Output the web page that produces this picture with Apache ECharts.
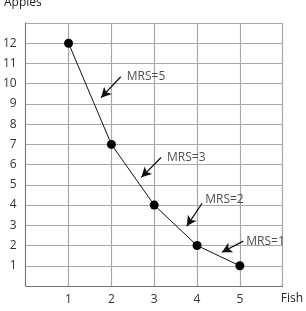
<!DOCTYPE html>
<html>
<head>
<meta charset="utf-8">
<script src="https://cdn.jsdelivr.net/npm/echarts@6/dist/echarts.min.js"></script>
<style>
  html, body { margin: 0; padding: 0; background: #fff; }
  #chart { width: 306px; height: 311px; }
</style>
</head>
<body>
<div id="chart"></div>
<script>
// fish (x) and apples (y) on the indifference curve
var fish = [1, 2, 3, 4, 5];
var apples = [12, 7, 4, 2, 1];

// MRS notes: label text, where the text sits, arrow start and arrow tip
var mrsText = ['MRS=5', 'MRS=3', 'MRS=2', 'MRS=1'];
var mrsTextPos = [[2.36, 10.34], [3.30, 6.35], [4.19, 4.29], [5.15, 2.22]];
var arrowFrom = [[2.22, 10.34], [3.16, 6.35], [4.12, 4.09], [5.08, 2.22]];
var arrowTo = [[1.76, 9.31], [2.70, 5.37], [3.76, 2.96], [4.58, 1.67]];

var font = '"Open Sans", "DejaVu Sans", sans-serif';
var chart = echarts.init(document.getElementById('chart'));

var curve = fish.map(function (f, i) { return [f, apples[i]]; });
var arrows = arrowFrom.map(function (p, i) {
    return [{ coord: p }, { coord: arrowTo[i] }];
});
var notes = mrsTextPos.map(function (p, i) {
    return { value: p, name: mrsText[i] };
});

var option = {
    animation: false,
    title: {
        text: 'Apples',
        left: -1,
        top: -8,
        textStyle: { fontFamily: font, fontSize: 12, fontWeight: 'normal', color: '#222' }
    },
    grid: { left: 25, right: 19, top: 23, bottom: 25 },
    xAxis: {
        type: 'value',
        min: 0, max: 6, interval: 1,
        name: 'Fish',
        nameLocation: 'end',
        nameGap: -2,
        nameTextStyle: { fontFamily: font, fontSize: 12, color: '#222', verticalAlign: 'top', padding: [7, 0, 0, 0] },
        axisLine: { lineStyle: { color: '#777', width: 1 } },
        axisTick: { show: false },
        axisLabel: {
            margin: 8, fontFamily: font, fontSize: 12, color: '#333',
            formatter: function (v) { return (v > 0 && v < 6) ? v : ''; }
        },
        splitLine: { lineStyle: { color: '#a8a8a8', width: 1.2 } }
    },
    yAxis: {
        type: 'value',
        min: 0, max: 13, interval: 1,
        axisLine: { show: true, lineStyle: { color: '#777', width: 1 } },
        axisTick: { show: false },
        axisLabel: {
            margin: 9, fontFamily: font, fontSize: 12, color: '#333',
            formatter: function (v) { return (v > 0 && v < 13) ? v : ''; }
        },
        splitLine: { lineStyle: { color: '#a8a8a8', width: 1.2 } }
    },
    series: [
        {
            type: 'line',
            data: curve,
            symbol: 'circle',
            symbolSize: 9,
            itemStyle: { color: '#000' },
            lineStyle: { color: '#111', width: 1 },
            markLine: {
                silent: true,
                symbol: ['none', 'arrow'],
                symbolSize: [8, 10],
                label: { show: false },
                lineStyle: { color: '#111', width: 1.3, type: 'solid' },
                data: arrows
            }
        },
        {
            type: 'scatter',
            data: notes,
            symbolSize: 0,
            label: {
                show: true,
                position: 'right',
                distance: 0,
                formatter: '{b}',
                fontFamily: font,
                fontSize: 12,
                color: '#222'
            }
        }
    ]
};
chart.setOption(option);
</script>
</body>
</html>
